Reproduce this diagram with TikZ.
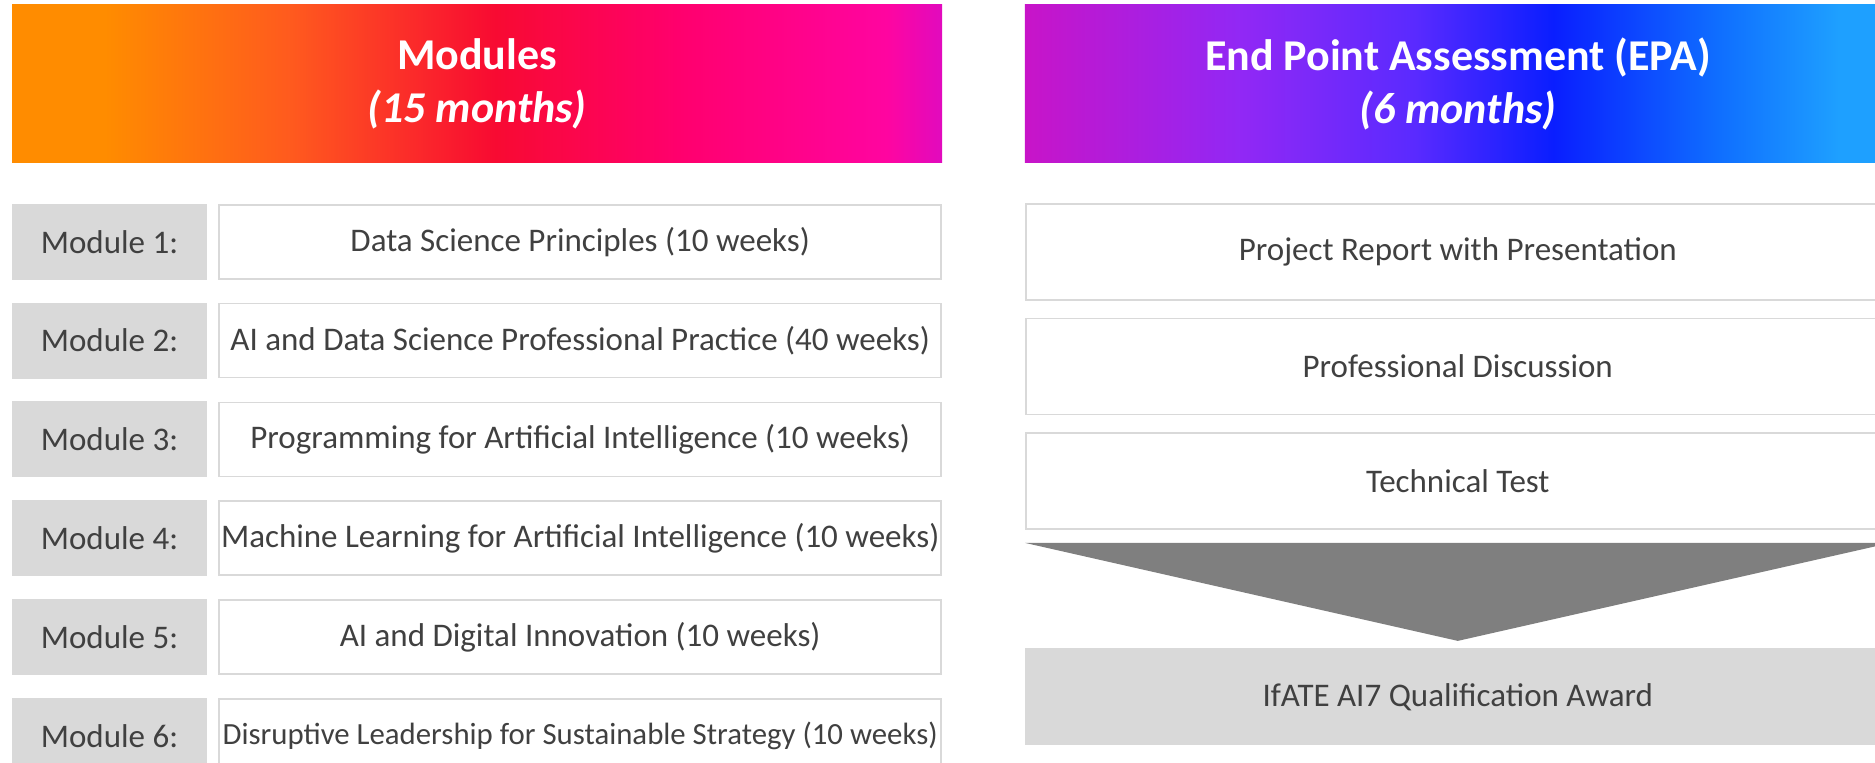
\documentclass[tikz,border=0pt]{standalone}
\usepackage{fontspec}
\setmainfont{Carlito}
\usetikzlibrary{positioning,calc}

\definecolor{txtgray}{HTML}{404040}
\definecolor{lblgray}{HTML}{D9D9D9}
\definecolor{edgegray}{HTML}{D9D9D9}
\definecolor{trigray}{HTML}{7F7F7F}
\definecolor{modorange}{HTML}{FF8C00}
\definecolor{modcoral}{HTML}{FF5A1E}
\definecolor{modred}{HTML}{F80A32}
\definecolor{modrose}{HTML}{FF006E}
\definecolor{modpink}{HTML}{FF05A0}
\definecolor{modmagenta}{HTML}{E10ABE}
\definecolor{epamagenta}{HTML}{C814C8}
\definecolor{epapurple}{HTML}{9128F5}
\definecolor{epaviolet}{HTML}{5A2AFF}
\definecolor{epablue}{HTML}{0A1EFF}
\definecolor{epamid}{HTML}{0F6EFF}
\definecolor{epasky}{HTML}{1EA0FF}

\pgfdeclarehorizontalshading{modshade}{100bp}{color(0bp)=(modorange); color(30bp)=(modorange); color(40bp)=(modcoral); color(51bp)=(modred); color(61bp)=(modrose); color(72bp)=(modpink); color(75bp)=(modmagenta); color(100bp)=(modmagenta)}
\pgfdeclarehorizontalshading{epashade}{100bp}{color(0bp)=(epamagenta); color(25bp)=(epamagenta); color(37.5bp)=(epapurple); color(47.5bp)=(epaviolet); color(55.5bp)=(epablue); color(65bp)=(epamid); color(72bp)=(epasky); color(100bp)=(epasky)}

\begin{document}
\begin{tikzpicture}[x=0.5pt, y=0.5pt, node distance=11pt,
    txt/.style={font=\fontsize{16.5}{19.8}\selectfont, text=txtgray},
    head/.style={minimum height=79pt, text=white, align=center, font=\fontsize{22}{26.5}\selectfont\bfseries},
    lbl/.style={txt, fill=lblgray, minimum width=97.5pt, minimum height=38pt},
    modbox/.style={txt, draw=edgegray, line width=0.75pt, fill=white, minimum width=361pt, minimum height=37pt, inner sep=0pt},
    epabox/.style={txt, draw=edgegray, line width=0.75pt, fill=white, minimum width=432pt, minimum height=48pt},
    awardbox/.style={txt, fill=lblgray, minimum width=433pt, minimum height=48.5pt}]

    \useasboundingbox (0,0) rectangle (1875,-763);
    \clip (0,0) rectangle (1875,-763);

    \node[head, shading=modshade, minimum width=465pt] (hdmod) at (477,-84) {Modules\\\itshape (15 months)};
    \node[head, shading=epashade, minimum width=433pt, right=41pt of hdmod] (hdepa) {End Point Assessment (EPA)\\\itshape (6 months)};

    % Modules
    \node[lbl, below right=20pt and 0pt of hdmod.south west] (m1lbl) {Module 1:};
    \node[lbl, below=of m1lbl] (m2lbl) {Module 2:};
    \node[lbl, below=of m2lbl] (m3lbl) {Module 3:};
    \node[lbl, below=of m3lbl] (m4lbl) {Module 4:};
    \node[lbl, below=of m4lbl] (m5lbl) {Module 5:};
    \node[lbl, below=of m5lbl] (m6lbl) {Module 6:};

    \node[modbox, right=5.5pt of m1lbl] (m1box) {Data Science Principles (10 weeks)};
    \node[modbox, right=5.5pt of m2lbl] (m2box) {AI and Data Science Professional Practice (40 weeks)};
    \node[modbox, right=5.5pt of m3lbl] (m3box) {Programming for Artificial Intelligence (10 weeks)};
    \node[modbox, right=5.5pt of m4lbl] (m4box) {Machine Learning for Artificial Intelligence (10 weeks)};
    \node[modbox, right=5.5pt of m5lbl] (m5box) {AI and Digital Innovation (10 weeks)};
    \node[modbox, right=5.5pt of m6lbl, font=\fontsize{15.4}{18.5}\selectfont] (m6box) {Disruptive Leadership for Sustainable Strategy (10 weeks)};

    % EPA
    \node[epabox, below=20pt of hdepa] (pr) {Project Report with Presentation};
    \node[epabox, below=8.5pt of pr] (pd) {Professional Discussion};
    \node[epabox, below=8.5pt of pd] (tt) {Technical Test};
    \node[awardbox, below=59pt of tt] (award) {IfATE AI7 Qualification Award};

    \fill[trigray] ($(tt.south west)+(0,-13)$) -- ($(tt.south east)+(0,-13)$) -- ($(award.north)+(0,7)$) -- cycle;

\end{tikzpicture}
\end{document}
